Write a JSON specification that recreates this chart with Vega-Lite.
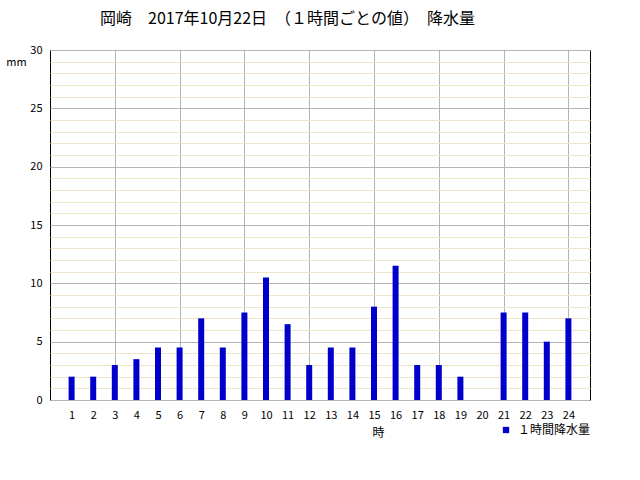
{
  "$schema": "https://vega.github.io/schema/vega-lite/v6.json",
  "width": 540,
  "height": 350,
  "autosize": {"type": "none"},
  "padding": {"left": 50, "top": 50, "right": 50, "bottom": 80},
  "background": "white",
  "config": {
    "font": "Noto Sans CJK JP",
    "view": {"stroke": "black", "strokeWidth": 1}
  },
  "title": {
    "text": "岡崎　2017年10月22日　（１時間ごとの値）　降水量",
    "anchor": "start",
    "frame": "group",
    "dx": 50,
    "offset": 17,
    "fontSize": 16,
    "fontWeight": "normal",
    "color": "black",
    "font": "Noto Sans CJK JP"
  },
  "data": {
    "values": [
      {"hour": 1, "mm": 2},
      {"hour": 2, "mm": 2},
      {"hour": 3, "mm": 3},
      {"hour": 4, "mm": 3.5},
      {"hour": 5, "mm": 4.5},
      {"hour": 6, "mm": 4.5},
      {"hour": 7, "mm": 7},
      {"hour": 8, "mm": 4.5},
      {"hour": 9, "mm": 7.5},
      {"hour": 10, "mm": 10.5},
      {"hour": 11, "mm": 6.5},
      {"hour": 12, "mm": 3},
      {"hour": 13, "mm": 4.5},
      {"hour": 14, "mm": 4.5},
      {"hour": 15, "mm": 8},
      {"hour": 16, "mm": 11.5},
      {"hour": 17, "mm": 3},
      {"hour": 18, "mm": 3},
      {"hour": 19, "mm": 2},
      {"hour": 20, "mm": 0},
      {"hour": 21, "mm": 7.5},
      {"hour": 22, "mm": 7.5},
      {"hour": 23, "mm": 5},
      {"hour": 24, "mm": 7}
    ]
  },
  "mark": {"type": "bar", "width": 6},
  "encoding": {
    "x": {
      "field": "hour",
      "type": "quantitative",
      "scale": {"domain": [0, 25], "nice": false, "zero": false, "padding": 0},
      "axis": {
        "values": [1,2,3,4,5,6,7,8,9,10,11,12,13,14,15,16,17,18,19,20,21,22,23,24],
        "title": "時",
        "titleFontSize": 12,
        "titleFontWeight": "normal",
        "titleColor": "black",
        "titleX": 328,
        "titleY": 32,
        "titleAlign": "center",
        "titleBaseline": "middle",
        "labelFontSize": 11,
        "labelColor": "black",
        "labelPadding": 9,
        "labelFlush": false,
        "ticks": false,
        "domain": false,
        "grid": true,
        "gridColor": {"condition": {"test": "datum.value % 3 === 0", "value": "#b4b4b4"}, "value": "transparent"},
        "gridOpacity": 1
      }
    },
    "y": {
      "field": "mm",
      "type": "quantitative",
      "scale": {"domain": [0, 30], "nice": false},
      "axis": {
        "values": [0,1,2,3,4,5,6,7,8,9,10,11,12,13,14,15,16,17,18,19,20,21,22,23,24,25,26,27,28,29,30],
        "labelExpr": "datum.value % 5 === 0 ? datum.label : ''",
        "title": "mm",
        "titleAngle": 0,
        "titleFontSize": 11,
        "titleFontWeight": "normal",
        "titleColor": "black",
        "titleX": -34,
        "titleY": 12,
        "titleAlign": "center",
        "titleBaseline": "middle",
        "labelFontSize": 11,
        "labelColor": "black",
        "labelPadding": 8,
        "labelFlush": false,
        "ticks": false,
        "domain": false,
        "grid": true,
        "gridColor": {"condition": {"test": "datum.value % 5 === 0", "value": "#b4b4b4"}, "value": "#efe6c8"},
        "gridOpacity": 1
      }
    },
    "color": {
      "datum": "１時間降水量",
      "type": "nominal",
      "scale": {"range": ["#0000cc"]},
      "legend": {
        "title": null,
        "orient": "none",
        "legendX": 450,
        "legendY": 374,
        "symbolType": "square",
        "symbolSize": 40,
        "symbolStrokeWidth": 0,
        "labelFontSize": 12,
        "labelColor": "black",
        "labelOffset": 6
      }
    }
  }
}
